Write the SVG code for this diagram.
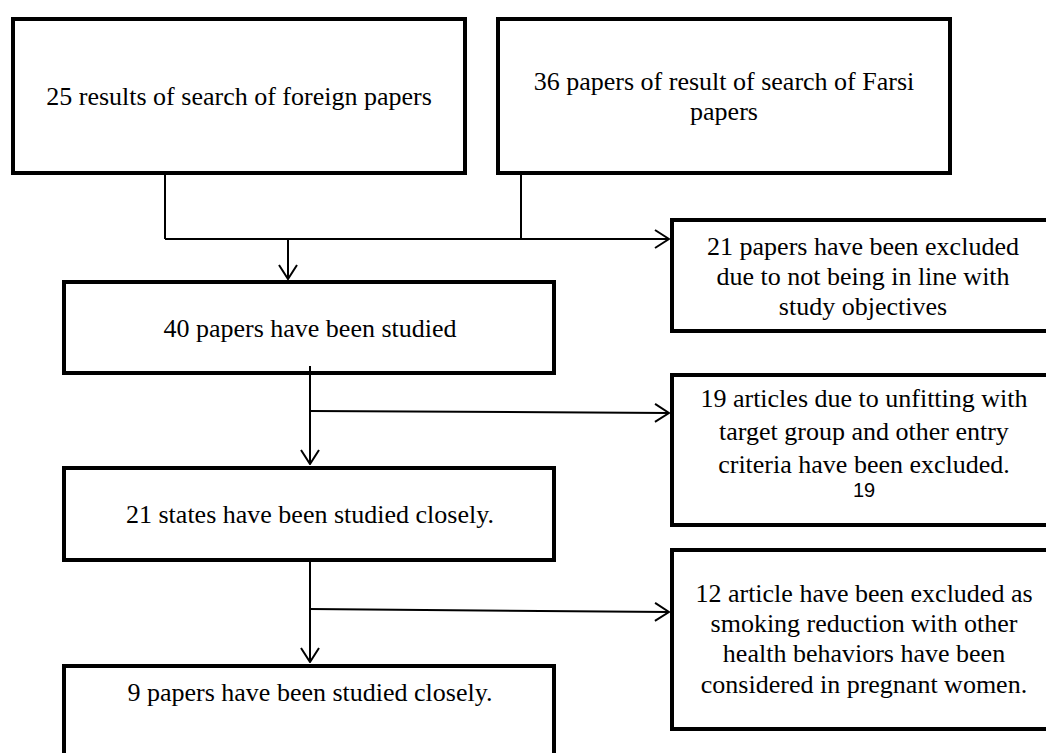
<svg xmlns="http://www.w3.org/2000/svg" width="1046" height="753" viewBox="0 0 1046 753">
  <defs>
    <marker id="arrow" viewBox="0 0 16 20" refX="15" refY="10" markerWidth="16" markerHeight="20" markerUnits="userSpaceOnUse" orient="auto">
      <path d="M1,1 L15,10 L1,19" fill="none" stroke="#000" stroke-width="2"/>
    </marker>
    <style>
      .box { fill: #fff; stroke: #000; stroke-width: 4; }
      .t { font-family: "Liberation Serif", "Times New Roman", serif; font-size: 26px; fill: #000; text-anchor: middle; }
      .s { font-family: "Liberation Sans", Arial, sans-serif; font-size: 20px; fill: #000; text-anchor: middle; }
      .c { fill: none; stroke: #000; stroke-width: 2; }
    </style>
  </defs>
  <rect width="1046" height="753" fill="#fff"/>

  <g id="node-foreign">
    <rect class="box" x="13" y="19" width="452" height="154"/>
    <text class="t" x="239" y="105">25 results of search of foreign papers</text>
  </g>

  <g id="node-farsi">
    <rect class="box" x="498" y="19" width="452" height="154"/>
    <text class="t" x="724" y="90">36 papers of result of search of Farsi</text>
    <text class="t" x="724" y="120">papers</text>
  </g>

  <g id="node-excluded-21">
    <rect class="box" x="672" y="220" width="400" height="111"/>
    <text class="t" x="863" y="255">21 papers have been excluded</text>
    <text class="t" x="863" y="285">due to not being in line with</text>
    <text class="t" x="863" y="315">study objectives</text>
  </g>

  <g id="node-studied-40">
    <rect class="box" x="64" y="282" width="490" height="91"/>
    <text class="t" x="310" y="337">40 papers have been studied</text>
  </g>

  <g id="node-excluded-19">
    <rect class="box" x="672" y="375" width="400" height="150"/>
    <text class="t" x="864" y="407">19 articles due to unfitting with</text>
    <text class="t" x="864" y="440">target group and other entry</text>
    <text class="t" x="864" y="473">criteria have been excluded.</text>
    <text class="s" x="864" y="497">19</text>
  </g>

  <g id="node-states-21">
    <rect class="box" x="64" y="468" width="490" height="92"/>
    <text class="t" x="310" y="523">21 states have been studied closely.</text>
  </g>

  <g id="node-excluded-12">
    <rect class="box" x="672" y="550" width="400" height="179"/>
    <text class="t" x="864" y="602">12 article have been excluded as</text>
    <text class="t" x="864" y="632">smoking reduction with other</text>
    <text class="t" x="864" y="662">health behaviors have been</text>
    <text class="t" x="864" y="693">considered in pregnant women.</text>
  </g>

  <g id="node-papers-9">
    <rect class="box" x="64" y="666" width="490" height="120"/>
    <text class="t" x="310" y="701">9 papers have been studied closely.</text>
  </g>

  <g id="connectors">
    <polyline class="c" points="165,175 165,239"/>
    <polyline class="c" points="521,175 521,239"/>
    <line class="c" x1="165" y1="239" x2="669" y2="239" marker-end="url(#arrow)"/>
    <line class="c" x1="288" y1="239" x2="288" y2="279" marker-end="url(#arrow)"/>
    <line class="c" x1="310" y1="366" x2="310" y2="464" marker-end="url(#arrow)"/>
    <line class="c" x1="310" y1="411" x2="669" y2="413" marker-end="url(#arrow)"/>
    <line class="c" x1="310" y1="562" x2="310" y2="662" marker-end="url(#arrow)"/>
    <line class="c" x1="310" y1="609" x2="669" y2="612" marker-end="url(#arrow)"/>
  </g>
</svg>
